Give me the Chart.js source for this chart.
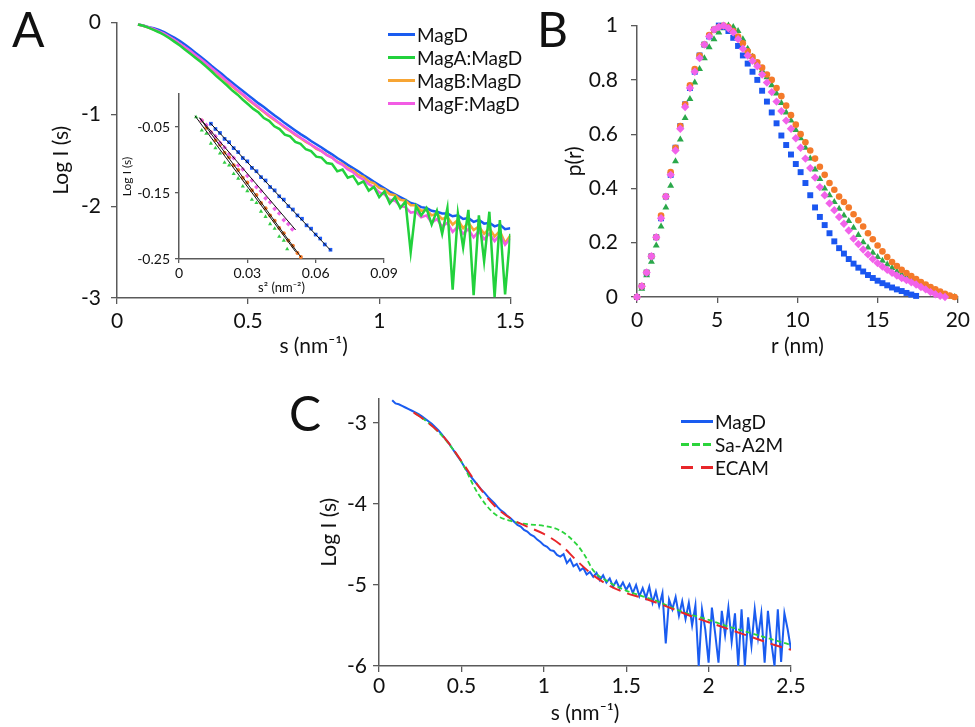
<!DOCTYPE html>
<html>
<head>
<meta charset="utf-8">
<script src="https://cdn.jsdelivr.net/npm/chart.js@4.4.0/dist/chart.umd.min.js"></script>
<style>
  body { margin: 0; background: #fff; }
  #fig { position: relative; width: 975px; height: 727px; font-family: Lato, "Open Sans", sans-serif; color: #111; overflow: hidden; }
  canvas { position: absolute; }
  .panel { position: absolute; font-size: 48px; line-height: 48px; }
  .leg { position: absolute; font-size: 19px; }
  .leg div { height: 23px; display: flex; align-items: center; white-space: nowrap; }
  .leg .ln { display: inline-block; height: 3px; margin-right: 2px; }
</style>
</head>
<body>
<div id="fig">
  <canvas id="cA" width="530" height="365" style="left:0;top:0"></canvas>
  <canvas id="cInset" width="290" height="220" style="left:110px;top:80px"></canvas>
  <canvas id="cB" width="415" height="365" style="left:560px;top:0"></canvas>
  <canvas id="cC" width="520" height="347" style="left:290px;top:380px"></canvas>

  <div class="panel" style="left:12px;top:5px">A</div>
  <div class="panel" style="left:537px;top:5px">B</div>
  <div class="panel" style="left:289px;top:389px">C</div>

  <div class="leg" style="left:388px;top:23px">
    <div><span class="ln" style="width:27px;background:#1a5cf0"></span>MagD</div>
    <div><span class="ln" style="width:27px;background:#22d13c"></span>MagA:MagD</div>
    <div><span class="ln" style="width:27px;background:#f7a534"></span>MagB:MagD</div>
    <div><span class="ln" style="width:27px;background:#f25ce4"></span>MagF:MagD</div>
  </div>
  <div class="leg" style="left:681px;top:410px">
    <div><span class="ln" style="width:32px;background:#1a5cf0"></span>MagD</div>
    <div><span class="ln" style="width:32px;background:repeating-linear-gradient(90deg,#2bd43b 0 8px,transparent 8px 11px)"></span>Sa-A2M</div>
    <div><span class="ln" style="width:32px;background:repeating-linear-gradient(90deg,#e8262a 0 12px,transparent 12px 20px)"></span>ECAM</div>
  </div>
</div>
<script>
// ---- Panel A: log I(s) vs s ----
const sA = [0.08,0.10,0.12,0.14,0.16,0.18,0.20,0.22,0.24,0.26,0.28,0.30,0.32,0.34,0.36,0.38,0.40,0.42,0.44,0.46,
  0.48,0.50,0.52,0.54,0.56,0.58,0.60,0.62,0.64,0.66,0.68,0.70,0.72,0.74,0.76,0.78,0.80,0.82,0.84,0.86,
  0.88,0.90,0.92,0.94,0.96,0.98,1.00,1.02,1.04,1.06,1.08,1.10,1.12,1.14,1.16,1.18,1.20,1.22,1.24,1.26,
  1.28,1.30,1.32,1.34,1.36,1.38,1.40,1.42,1.44,1.46,1.48,1.50];
const magD_A = [-0.02,-0.03,-0.05,-0.06,-0.08,-0.105,-0.135,-0.165,-0.20,-0.24,-0.285,-0.33,-0.375,-0.42,-0.47,-0.515,-0.56,-0.61,-0.655,-0.70,
  -0.745,-0.79,-0.835,-0.88,-0.92,-0.965,-1.01,-1.05,-1.095,-1.135,-1.175,-1.215,-1.25,-1.29,-1.325,-1.36,-1.40,-1.435,-1.475,-1.51,
  -1.55,-1.585,-1.62,-1.66,-1.695,-1.735,-1.77,-1.805,-1.84,-1.87,-1.90,-1.93,-1.965,-1.98,-2.01,-2.02,-2.05,-2.06,-2.08,-2.08,
  -2.11,-2.10,-2.14,-2.13,-2.17,-2.15,-2.19,-2.18,-2.22,-2.20,-2.25,-2.24];
const magA_A = [-0.02,-0.035,-0.055,-0.08,-0.105,-0.135,-0.17,-0.21,-0.25,-0.295,-0.34,-0.385,-0.43,-0.48,-0.53,-0.585,-0.635,-0.685,-0.74,-0.785,
  -0.84,-0.89,-0.94,-0.98,-1.04,-1.07,-1.13,-1.16,-1.22,-1.24,-1.30,-1.32,-1.38,-1.40,-1.46,-1.47,-1.53,-1.54,-1.62,-1.60,
  -1.69,-1.67,-1.76,-1.73,-1.83,-1.79,-1.90,-1.84,-1.97,-1.90,-2.02,-1.95,-2.50,-2.00,-2.10,-2.02,-2.20,-2.05,-2.30,-2.02,
  -2.91,-2.08,-2.45,-2.04,-2.97,-2.10,-2.60,-2.06,-2.99,-2.15,-2.96,-2.30];
const magB_A = [-0.02,-0.035,-0.055,-0.075,-0.10,-0.125,-0.16,-0.195,-0.235,-0.275,-0.32,-0.365,-0.41,-0.455,-0.505,-0.55,-0.60,-0.65,-0.70,-0.745,
  -0.79,-0.84,-0.885,-0.93,-0.975,-1.02,-1.06,-1.10,-1.145,-1.18,-1.225,-1.26,-1.30,-1.33,-1.375,-1.40,-1.44,-1.47,-1.515,-1.54,
  -1.585,-1.61,-1.66,-1.68,-1.73,-1.75,-1.80,-1.82,-1.87,-1.88,-1.93,-1.94,-1.99,-1.99,-2.05,-2.04,-2.10,-2.08,-2.14,-2.12,
  -2.20,-2.15,-2.24,-2.18,-2.26,-2.22,-2.30,-2.24,-2.33,-2.27,-2.40,-2.32];
const magF_A = [-0.02,-0.035,-0.05,-0.07,-0.095,-0.12,-0.155,-0.19,-0.23,-0.27,-0.31,-0.355,-0.40,-0.445,-0.495,-0.54,-0.59,-0.64,-0.685,-0.735,
  -0.78,-0.83,-0.875,-0.92,-0.965,-1.01,-1.05,-1.095,-1.135,-1.175,-1.215,-1.255,-1.29,-1.33,-1.365,-1.40,-1.445,-1.47,-1.52,-1.55,
  -1.60,-1.63,-1.68,-1.71,-1.76,-1.79,-1.85,-1.87,-1.93,-1.94,-2.00,-2.01,-2.07,-2.06,-2.12,-2.10,-2.18,-2.14,-2.22,-2.18,
  -2.28,-2.22,-2.30,-2.25,-2.34,-2.27,-2.36,-2.30,-2.38,-2.31,-2.42,-2.35];

// ---- Inset: Guinier plot, log I vs s^2 ----
const gD_x = [0.014,0.016,0.018,0.020,0.022,0.024,0.026,0.028,0.030,0.032,0.034,0.036,0.038,0.040,0.042,0.044,0.046,0.048,0.050,0.052,0.054,0.056,0.058,0.060,0.062,0.064,0.0665];
const gD_y = [-0.045,-0.053,-0.059,-0.068,-0.073,-0.082,-0.088,-0.097,-0.102,-0.112,-0.117,-0.126,-0.131,-0.141,-0.146,-0.155,-0.160,-0.170,-0.175,-0.184,-0.189,-0.199,-0.204,-0.213,-0.219,-0.228,-0.236];
const gB_x = [0.010,0.012,0.014,0.016,0.018,0.020,0.022,0.024,0.026,0.028,0.030,0.032,0.034,0.036,0.038,0.040,0.042,0.044,0.046,0.048,0.050,0.052,0.0535];
const gB_y = [-0.040,-0.051,-0.058,-0.070,-0.077,-0.089,-0.096,-0.108,-0.115,-0.127,-0.134,-0.146,-0.153,-0.165,-0.173,-0.184,-0.192,-0.203,-0.211,-0.222,-0.230,-0.241,-0.247];
const gF_x = [0.010,0.012,0.014,0.016,0.018,0.020,0.022,0.024,0.026,0.028,0.030,0.032,0.034,0.036,0.038,0.040,0.042,0.044,0.046,0.048,0.0497];
const gF_y = [-0.040,-0.047,-0.058,-0.064,-0.074,-0.081,-0.091,-0.097,-0.108,-0.114,-0.124,-0.131,-0.141,-0.147,-0.158,-0.164,-0.174,-0.181,-0.191,-0.197,-0.205];
const gA_x = [0.0075,0.010,0.012,0.014,0.016,0.018,0.020,0.022,0.024,0.026,0.028,0.030,0.032,0.034,0.036,0.038,0.040,0.042,0.044,0.046,0.0475];
const gA_y = [-0.035,-0.055,-0.060,-0.075,-0.082,-0.090,-0.104,-0.108,-0.121,-0.128,-0.140,-0.147,-0.160,-0.165,-0.178,-0.186,-0.197,-0.204,-0.216,-0.222,-0.235];
// straight-line fits (end points)
const fitD_x = [0.0137, 0.0666], fitD_y = [-0.044, -0.237];
const fitB_x = [0.009, 0.0535],  fitB_y = [-0.036, -0.247];
const fitF_x = [0.009, 0.0512],  fitF_y = [-0.036, -0.206];
const fitA_x = [0.007, 0.0512],  fitA_y = [-0.033, -0.239];

// ---- Panel B: p(r) ----
const rB = [0,0.3,0.6,0.9,1.2,1.5,1.8,2.1,2.4,2.7,3.0,3.3,3.6,3.9,4.2,4.5,4.8,5.1,5.4,5.7,
  6.0,6.3,6.6,6.9,7.2,7.5,7.8,8.1,8.4,8.7,9.0,9.3,9.6,9.9,10.2,10.5,10.8,11.1,11.4,11.7,
  12.0,12.3,12.6,12.9,13.2,13.5,13.8,14.1,14.4,14.7,15.0,15.3,15.6,15.9,16.2,16.5,16.8,17.1,17.4,17.7,
  18.0,18.3,18.6,18.9,19.2,19.5,19.8];
const prD = [0,0.04,0.09,0.15,0.22,0.29,0.37,0.45,0.55,0.63,0.71,0.77,0.83,0.89,0.93,0.96,0.985,1.0,0.995,0.98,
  0.955,0.925,0.89,0.86,0.83,0.80,0.76,0.72,0.68,0.64,0.595,0.56,0.525,0.49,0.46,0.42,0.375,0.33,0.295,0.265,
  0.235,0.205,0.18,0.16,0.14,0.123,0.108,0.094,0.081,0.07,0.06,0.051,0.043,0.035,0.028,0.022,0.015,0.009,0.004];
const prB = [0,0.04,0.09,0.15,0.22,0.30,0.37,0.46,0.55,0.63,0.71,0.78,0.84,0.89,0.93,0.965,0.985,0.995,1.0,0.995,
  0.98,0.96,0.935,0.905,0.885,0.865,0.845,0.82,0.80,0.77,0.74,0.705,0.67,0.635,0.60,0.57,0.54,0.51,0.48,0.45,
  0.42,0.395,0.37,0.35,0.33,0.305,0.283,0.26,0.235,0.213,0.19,0.168,0.147,0.129,0.114,0.10,0.088,0.077,0.066,0.055,
  0.046,0.037,0.028,0.02,0.012,0.005,0.0];
const prF = [0,0.04,0.09,0.15,0.22,0.29,0.37,0.45,0.54,0.62,0.70,0.77,0.83,0.88,0.93,0.96,0.985,0.995,1.0,0.99,
  0.975,0.95,0.915,0.89,0.87,0.85,0.82,0.79,0.755,0.72,0.685,0.65,0.62,0.585,0.55,0.51,0.475,0.44,0.405,0.375,
  0.345,0.32,0.295,0.27,0.245,0.215,0.195,0.175,0.157,0.14,0.125,0.112,0.10,0.089,0.079,0.07,0.062,0.054,0.046,0.037,
  0.028,0.018,0.01,0.004,0.0];
const prA = [0,0.03,0.08,0.13,0.19,0.26,0.33,0.41,0.50,0.58,0.66,0.73,0.79,0.84,0.88,0.92,0.95,0.975,0.99,1.0,
  0.995,0.98,0.95,0.915,0.885,0.86,0.835,0.81,0.78,0.75,0.715,0.68,0.65,0.615,0.585,0.55,0.51,0.47,0.435,0.40,
  0.375,0.35,0.325,0.30,0.28,0.255,0.228,0.202,0.182,0.163,0.147,0.134,0.12,0.107,0.094,0.082,0.072,0.062,0.052,0.043,
  0.034,0.026,0.018,0.012,0.006,0.003,0.0];

// ---- Panel C: MagD vs model curves ----
const sC = [0.08,0.10,0.12,0.14,0.16,0.18,0.20,0.22,0.24,0.26,0.28,0.30,0.32,0.34,0.36,0.38,0.40,0.42,0.44,0.46,
  0.48,0.50,0.52,0.54,0.56,0.58,0.60,0.62,0.64,0.66,0.68,0.70,0.72,0.74,0.76,0.78,0.80,0.82,0.84,0.86,
  0.88,0.90,0.92,0.94,0.96,0.98,1.00,1.02,1.04,1.06,1.08,1.10,1.12,1.14,1.16,1.18,1.20,1.22,1.24,1.26,
  1.28,1.30,1.32,1.34,1.36,1.38,1.40,1.42,1.44,1.46,1.48,1.50,1.52,1.54,1.56,1.58,1.60,1.62,1.64,1.66,
  1.68,1.70,1.72,1.74,1.76,1.78,1.80,1.82,1.84,1.86,1.88,1.90,1.92,1.94,1.96,1.98,2.00,2.02,2.04,2.06,
  2.08,2.10,2.12,2.14,2.16,2.18,2.20,2.22,2.24,2.26,2.28,2.30,2.32,2.34,2.36,2.38,2.40,2.42,2.44,2.46,
  2.48,2.50];
const magD_C = [-2.72,-2.76,-2.77,-2.79,-2.81,-2.83,-2.85,-2.87,-2.89,-2.92,-2.95,-2.98,-3.01,-3.05,-3.09,-3.14,-3.19,-3.24,-3.30,-3.36,
  -3.42,-3.48,-3.55,-3.61,-3.67,-3.72,-3.77,-3.82,-3.86,-3.91,-3.95,-3.99,-4.04,-4.08,-4.11,-4.15,-4.18,-4.22,-4.26,-4.28,
  -4.32,-4.34,-4.38,-4.40,-4.44,-4.47,-4.51,-4.53,-4.57,-4.58,-4.63,-4.65,-4.62,-4.73,-4.68,-4.77,-4.74,-4.82,-4.79,-4.87,
  -4.84,-4.90,-4.85,-4.94,-4.88,-4.97,-4.92,-5.02,-4.95,-5.04,-4.97,-5.06,-4.99,-5.10,-5.00,-5.14,-5.04,-5.16,-5.02,-5.22,
  -5.08,-5.26,-5.10,-5.72,-5.18,-5.30,-5.15,-5.38,-5.20,-5.42,-5.22,-5.50,-5.25,-6.00,-5.30,-5.55,-5.96,-5.28,-5.60,-5.96,
  -5.32,-5.62,-5.28,-5.70,-5.35,-6.00,-5.30,-6.00,-5.40,-5.75,-5.30,-5.65,-5.35,-5.96,-5.32,-5.70,-6.00,-5.30,-5.95,-5.35,
  -5.55,-5.80];
const sSaA2M = [0.22,0.3,0.4,0.5,0.6,0.7,0.8,0.9,1.0,1.1,1.2,1.25,1.3,1.4,1.5,1.6,1.7,1.8,1.9,2.0,2.1,2.2,2.3,2.4,2.5];
const saA2M  = [-2.88,-3.0,-3.20,-3.48,-3.87,-4.12,-4.21,-4.25,-4.27,-4.33,-4.50,-4.64,-4.82,-4.97,-5.07,-5.14,-5.21,-5.30,-5.37,-5.43,-5.50,-5.56,-5.62,-5.68,-5.74];
const sECAM  = [0.21,0.3,0.4,0.5,0.6,0.7,0.8,0.9,1.0,1.1,1.2,1.3,1.4,1.5,1.6,1.7,1.8,1.9,2.0,2.1,2.2,2.3,2.4,2.5];
const ecam   = [-2.87,-3.0,-3.19,-3.47,-3.77,-4.02,-4.18,-4.28,-4.37,-4.50,-4.70,-4.88,-5.01,-5.10,-5.16,-5.23,-5.31,-5.39,-5.46,-5.53,-5.60,-5.67,-5.74,-5.80];

const BLUE = '#1a5cf0', GREEN = '#22d13c', ORANGE = '#f7a534', PINK = '#f25ce4';
const AXIS = '#5a5a5a', INK = '#111';

Chart.defaults.font.family = 'Lato, "Open Sans", sans-serif';
Chart.defaults.color = INK;

const pts = (xs, ys) => ys.map((y, i) => ({x: xs[i], y: y}));

function axis(o) {
  return {
    type: 'linear',
    min: o.min, max: o.max,
    afterBuildTicks: s => { s.ticks = o.ticks.map(v => ({value: v})); },
    afterFit: s => { if (s.isHorizontal()) s.height = o.size; else s.width = o.size; },
    grid: {drawOnChartArea: false, drawTicks: true, tickLength: o.tl || 6, color: AXIS, lineWidth: 1.3},
    border: {color: AXIS, width: 1.5},
    ticks: {font: {size: o.fs || 21}, padding: o.tp, color: INK, callback: v => String(v)},
    title: {display: true, text: o.title, font: {size: o.tfs || 21}, padding: o.tpad, color: INK}
  };
}

function base(pad, xs, ys) {
  return {
    responsive: false, animation: false, events: [],
    layout: {padding: pad},
    plugins: {legend: {display: false}, tooltip: {enabled: false}},
    scales: {x: xs, y: ys}
  };
}

const line = (xs, ys, color, w) => ({data: pts(xs, ys), borderColor: color, borderWidth: w, pointRadius: 0, showLine: true, tension: 0});

// Panel A
new Chart(document.getElementById('cA'), {
  type: 'scatter',
  data: {datasets: [
    line(sA, magA_A, GREEN, 2.5),
    line(sA, magF_A, PINK, 2.5),
    line(sA, magB_A, ORANGE, 2.5),
    line(sA, magD_A, BLUE, 2.5)
  ]},
  options: base({left: 0, top: 22, right: 18, bottom: 0},
    axis({min: 0, max: 1.5, ticks: [0, 0.5, 1, 1.5], size: 67, tp: 5, title: 's (nm\u207B\u00B9)', tpad: {top: 0, bottom: 6}}),
    axis({min: -3, max: 0, ticks: [0, -1, -2, -3], size: 117, tp: 10, title: 'Log I (s)', tpad: {top: 49, bottom: 0}}))
});

// Inset of panel A
const dots = (xs, ys, color, style, r) => ({data: pts(xs, ys), backgroundColor: color, borderColor: color, borderWidth: 0, pointStyle: style, pointRadius: r, showLine: false});
new Chart(document.getElementById('cInset'), {
  type: 'scatter',
  data: {datasets: [
    line(fitD_x, fitD_y, INK, 1),
    line(fitB_x, fitB_y, INK, 1),
    line(fitF_x, fitF_y, INK, 1),
    line(fitA_x, fitA_y, INK, 1),
    dots(gD_x, gD_y, '#1f5cf5', 'rect', 2.6),
    dots(gF_x, gF_y, '#f060e8', 'rectRot', 2.4),
    dots(gB_x, gB_y, '#f47a2a', 'circle', 2),
    dots(gA_x, gA_y, '#33cc44', 'triangle', 2.4)
  ]},
  options: base({left: 0, top: 14, right: 16, bottom: 0},
    axis({min: 0, max: 0.09, ticks: [0, 0.03, 0.06, 0.09], size: 41, tl: 4, tp: 2, fs: 14, title: 's\u00B2 (nm\u207B\u00B2)', tfs: 13, tpad: {top: 0, bottom: 4}}),
    axis({min: -0.25, max: 0, ticks: [-0.05, -0.15, -0.25], size: 69, tl: 4, tp: 5, fs: 14, title: 'Log I (s)', tfs: 12, tpad: {top: 10, bottom: 0}}))
});

// Panel B
const marks = (ys, color, style, r) => ({data: pts(rB, ys), backgroundColor: color, borderColor: color, borderWidth: 0, pointStyle: style, pointRadius: r, showLine: false, clip: false});
new Chart(document.getElementById('cB'), {
  type: 'scatter',
  data: {datasets: [
    marks(prF, '#f262ea', 'rectRot', 4.2),
    marks(prB, '#f47a2a', 'circle', 3.3),
    marks(prD, '#1a56f0', 'rect', 4.2),
    marks(prA, '#2aa84a', 'triangle', 4)
  ]},
  options: base({left: 0, top: 23, right: 17, bottom: 0},
    axis({min: 0, max: 20, ticks: [0, 5, 10, 15, 20], size: 68, tp: 5, title: 'r (nm)', tpad: {top: 0, bottom: 6}}),
    axis({min: 0, max: 1, ticks: [0, 0.2, 0.4, 0.6, 0.8, 1], size: 77, tp: 13, title: 'p(r)', tpad: {top: 2, bottom: 0}}))
});

// Panel C
new Chart(document.getElementById('cC'), {
  type: 'scatter',
  data: {datasets: [
    Object.assign(line(sECAM, ecam, '#e8262a', 2), {borderDash: [12, 7], cubicInterpolationMode: 'monotone'}),
    Object.assign(line(sSaA2M, saA2M, '#2bd43b', 1.8), {borderDash: [5, 3], cubicInterpolationMode: 'monotone'}),
    line(sC, magD_C, BLUE, 2)
  ]},
  options: base({left: 0, top: 17, right: 19, bottom: 0},
    axis({min: 0, max: 2.5, ticks: [0, 0.5, 1, 1.5, 2, 2.5], size: 61, tp: 2, title: 's (nm\u207B\u00B9)', tpad: {top: 0, bottom: 1}}),
    axis({min: -6, max: -2.7, ticks: [-3, -4, -5, -6], size: 89, tp: 6, title: 'Log I (s)', tpad: {top: 27, bottom: 0}}))
});
</script>
</body>
</html>
